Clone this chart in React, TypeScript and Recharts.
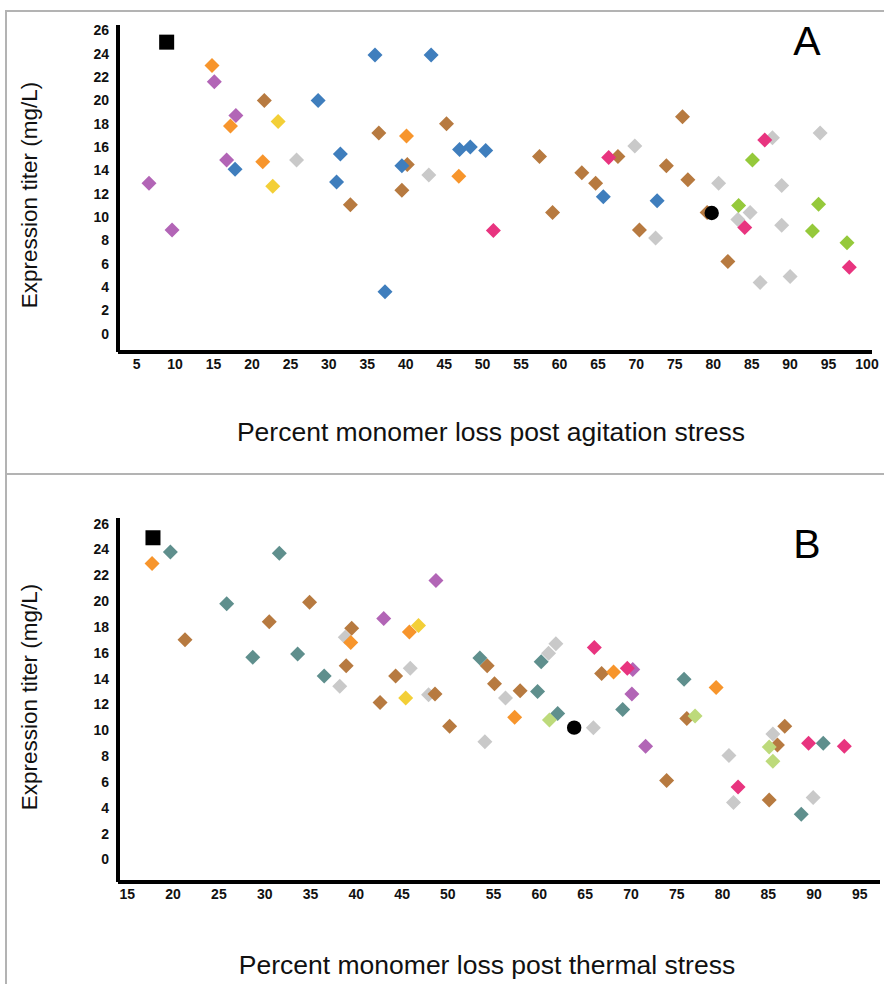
import React from "react";
import { ScatterChart, Scatter, XAxis, YAxis } from "recharts";

// ---------- Panel A: agitation stress ----------
const aTicksX = [5, 10, 15, 20, 25, 30, 35, 40, 45, 50, 55, 60, 65, 70, 75, 80, 85, 90, 95, 100];
const yTicks = [0, 2, 4, 6, 8, 10, 12, 14, 16, 18, 20, 22, 24, 26];

const aSquare = [{ x: 8.9, y: 25.0 }];
const aCircle = [{ x: 79.8, y: 10.35 }];
const aGray = [
  { x: 25.8, y: 14.9 }, { x: 43.0, y: 13.6 }, { x: 93.9, y: 17.2 }, { x: 87.7, y: 16.8 },
  { x: 69.8, y: 16.1 }, { x: 80.7, y: 12.9 }, { x: 88.9, y: 12.7 }, { x: 84.8, y: 10.4 },
  { x: 83.2, y: 9.8 }, { x: 88.9, y: 9.3 }, { x: 72.5, y: 8.2 }, { x: 86.1, y: 4.4 }, { x: 90.0, y: 4.9 },
];
const aBrown = [
  { x: 21.6, y: 20.0 }, { x: 32.8, y: 11.05 }, { x: 45.3, y: 18.0 }, { x: 36.5, y: 17.2 },
  { x: 40.2, y: 14.5 }, { x: 39.5, y: 12.3 }, { x: 57.4, y: 15.2 }, { x: 62.9, y: 13.8 },
  { x: 64.7, y: 12.9 }, { x: 59.1, y: 10.4 }, { x: 76.0, y: 18.6 }, { x: 67.6, y: 15.2 },
  { x: 73.9, y: 14.4 }, { x: 76.7, y: 13.2 }, { x: 70.4, y: 8.9 }, { x: 81.9, y: 6.2 }, { x: 79.2, y: 10.4 },
];
const aBlue = [
  { x: 36.0, y: 23.9 }, { x: 43.3, y: 23.9 }, { x: 28.6, y: 20.0 }, { x: 31.5, y: 15.4 },
  { x: 17.8, y: 14.1 }, { x: 31.0, y: 13.0 }, { x: 47.0, y: 15.8 }, { x: 48.4, y: 16.0 },
  { x: 50.4, y: 15.7 }, { x: 39.5, y: 14.4 }, { x: 37.3, y: 3.6 }, { x: 65.7, y: 11.75 }, { x: 72.7, y: 11.4 },
];
const aOrange = [
  { x: 14.8, y: 23.0 }, { x: 17.2, y: 17.8 }, { x: 21.4, y: 14.75 }, { x: 40.1, y: 16.95 }, { x: 46.9, y: 13.5 },
];
const aPurple = [
  { x: 15.1, y: 21.6 }, { x: 17.9, y: 18.7 }, { x: 16.7, y: 14.9 }, { x: 6.6, y: 12.9 }, { x: 9.6, y: 8.9 },
];
const aYellow = [{ x: 23.4, y: 18.2 }, { x: 22.7, y: 12.65 }];
const aGreen = [
  { x: 85.1, y: 14.9 }, { x: 83.3, y: 11.0 }, { x: 93.7, y: 11.1 }, { x: 92.9, y: 8.8 }, { x: 97.4, y: 7.8 },
];
const aPink = [
  { x: 51.4, y: 8.85 }, { x: 86.7, y: 16.6 }, { x: 66.4, y: 15.1 }, { x: 84.1, y: 9.1 }, { x: 97.7, y: 5.7 },
];

// ---------- Panel B: thermal stress ----------
const bTicksX = [15, 20, 25, 30, 35, 40, 45, 50, 55, 60, 65, 70, 75, 80, 85, 90, 95];

const bSquare = [{ x: 17.8, y: 24.9 }];
const bCircle = [{ x: 63.8, y: 10.2 }];
const bGray = [
  { x: 38.2, y: 13.4 }, { x: 38.8, y: 17.2 }, { x: 45.9, y: 14.8 }, { x: 47.9, y: 12.75 },
  { x: 54.05, y: 9.1 }, { x: 56.3, y: 12.5 }, { x: 61.0, y: 15.95 }, { x: 61.8, y: 16.7 },
  { x: 65.9, y: 10.2 }, { x: 80.7, y: 8.05 }, { x: 81.2, y: 4.4 }, { x: 85.5, y: 9.7 }, { x: 89.9, y: 4.8 },
];
const bBrown = [
  { x: 34.9, y: 19.9 }, { x: 30.5, y: 18.4 }, { x: 21.3, y: 17.0 }, { x: 39.5, y: 17.9 },
  { x: 38.9, y: 15.0 }, { x: 44.3, y: 14.2 }, { x: 42.6, y: 12.15 }, { x: 48.6, y: 12.8 },
  { x: 50.2, y: 10.3 }, { x: 54.3, y: 15.0 }, { x: 55.1, y: 13.6 }, { x: 57.9, y: 13.05 },
  { x: 66.8, y: 14.4 }, { x: 76.1, y: 10.9 }, { x: 73.9, y: 6.1 }, { x: 86.8, y: 10.3 },
  { x: 86.0, y: 8.85 }, { x: 85.1, y: 4.6 },
];
const bTeal = [
  { x: 19.7, y: 23.8 }, { x: 31.6, y: 23.7 }, { x: 25.85, y: 19.8 }, { x: 28.7, y: 15.65 },
  { x: 33.6, y: 15.9 }, { x: 36.5, y: 14.2 }, { x: 53.5, y: 15.6 }, { x: 59.8, y: 13.0 },
  { x: 60.2, y: 15.3 }, { x: 62.0, y: 11.3 }, { x: 69.1, y: 11.6 }, { x: 75.8, y: 13.95 },
  { x: 88.6, y: 3.5 }, { x: 91.0, y: 9.0 },
];
const bLightGreen = [
  { x: 61.1, y: 10.8 }, { x: 77.0, y: 11.1 }, { x: 85.1, y: 8.7 }, { x: 85.5, y: 7.6 },
];
const bOrange = [
  { x: 17.7, y: 22.9 }, { x: 39.4, y: 16.8 }, { x: 45.8, y: 17.6 }, { x: 57.3, y: 11.0 },
  { x: 68.1, y: 14.5 }, { x: 79.3, y: 13.3 },
];
const bYellow = [{ x: 46.8, y: 18.1 }, { x: 45.4, y: 12.5 }];
const bPurple = [
  { x: 48.7, y: 21.6 }, { x: 43.0, y: 18.65 }, { x: 70.2, y: 14.7 }, { x: 70.1, y: 12.8 }, { x: 71.6, y: 8.75 },
];
const bPink = [
  { x: 66.0, y: 16.4 }, { x: 69.6, y: 14.8 }, { x: 81.7, y: 5.6 }, { x: 89.4, y: 9.0 }, { x: 93.3, y: 8.75 },
];

const C = {
  gray: "#C9C9C9",
  brown: "#B77A40",
  blue: "#3F7EBD",
  orange: "#F7952C",
  purple: "#B265B6",
  yellow: "#F3CF37",
  green: "#95C93B",
  pink: "#E8347F",
  teal: "#5F8F8D",
  lightGreen: "#BDDA7B",
};

const Diamond = (color: string) => (props: any) => {
  const { cx, cy } = props;
  if (cx == null || cy == null) return null;
  const r = 7.5;
  return (
    <polygon
      points={`${cx},${cy - r} ${cx + r},${cy} ${cx},${cy + r} ${cx - r},${cy}`}
      fill={color}
    />
  );
};
const Square = (props: any) => {
  const { cx, cy } = props;
  if (cx == null || cy == null) return null;
  return <rect x={cx - 7.5} y={cy - 7.5} width={15} height={15} fill="#000" />;
};
const Dot = (props: any) => {
  const { cx, cy } = props;
  if (cx == null || cy == null) return null;
  return <circle cx={cx} cy={cy} r={7.2} fill="#000" />;
};

const tickFont = {
  fontSize: 14,
  fontWeight: 700,
  fill: "#111",
  fontFamily: "'Liberation Sans', Arial, sans-serif",
};
const labelFont = "'Liberation Sans', Arial, sans-serif";

type Series = { data: { x: number; y: number }[]; shape: any };

function Panel(props: {
  height: number;
  margin: { top: number; right: number; bottom: number; left: number };
  xDomain: [number, number];
  yDomain: [number, number];
  xTicks: number[];
  series: Series[];
}) {
  const { height, margin, xDomain, yDomain, xTicks, series } = props;
  return (
    <ScatterChart width={884} height={height} margin={margin}>
      <XAxis
        type="number"
        dataKey="x"
        domain={xDomain}
        ticks={xTicks}
        interval={0}
        allowDataOverflow
        tickLine={false}
        axisLine={{ stroke: "#000", strokeWidth: 4 }}
        tick={tickFont}
        tickMargin={1}
        height={30}
      />
      <YAxis
        type="number"
        dataKey="y"
        domain={yDomain}
        ticks={yTicks}
        interval={0}
        allowDataOverflow
        tickLine={false}
        axisLine={{ stroke: "#000", strokeWidth: 4 }}
        tick={tickFont}
        tickMargin={3}
        width={40}
      />
      {series.map((s, i) => (
        <Scatter key={i} data={s.data} shape={s.shape} isAnimationActive={false} />
      ))}
    </ScatterChart>
  );
}

export default function App() {
  const seriesA: Series[] = [
    { data: aGray, shape: Diamond(C.gray) },
    { data: aBrown, shape: Diamond(C.brown) },
    { data: aBlue, shape: Diamond(C.blue) },
    { data: aOrange, shape: Diamond(C.orange) },
    { data: aPurple, shape: Diamond(C.purple) },
    { data: aYellow, shape: Diamond(C.yellow) },
    { data: aGreen, shape: Diamond(C.green) },
    { data: aPink, shape: Diamond(C.pink) },
    { data: aSquare, shape: Square },
    { data: aCircle, shape: Dot },
  ];
  const seriesB: Series[] = [
    { data: bGray, shape: Diamond(C.gray) },
    { data: bBrown, shape: Diamond(C.brown) },
    { data: bTeal, shape: Diamond(C.teal) },
    { data: bLightGreen, shape: Diamond(C.lightGreen) },
    { data: bOrange, shape: Diamond(C.orange) },
    { data: bYellow, shape: Diamond(C.yellow) },
    { data: bPurple, shape: Diamond(C.purple) },
    { data: bPink, shape: Diamond(C.pink) },
    { data: bSquare, shape: Square },
    { data: bCircle, shape: Dot },
  ];

  const yLabel = (cy: number) => (
    <div
      style={{
        position: "absolute",
        left: 30 - 150,
        top: cy - 15,
        width: 300,
        height: 30,
        lineHeight: "30px",
        textAlign: "center",
        transform: "rotate(-90deg)",
        fontFamily: labelFont,
        fontSize: 22.5,
        color: "#111",
      }}
    >
      Expression titer (mg/L)
    </div>
  );
  const xLabel = (text: string, cx: number, cy: number) => (
    <div
      style={{
        position: "absolute",
        left: cx - 400,
        top: cy - 15,
        width: 800,
        height: 30,
        lineHeight: "30px",
        textAlign: "center",
        fontFamily: labelFont,
        fontSize: 26.5,
        color: "#111",
        whiteSpace: "nowrap",
      }}
    >
      {text}
    </div>
  );
  const letter = (t: string, top: number) => (
    <div
      style={{
        position: "absolute",
        left: 787,
        top,
        width: 40,
        textAlign: "center",
        fontFamily: labelFont,
        fontSize: 41,
        lineHeight: "41px",
        color: "#000",
      }}
    >
      {t}
    </div>
  );

  return (
    <div
      style={{
        position: "absolute",
        left: 0,
        top: 0,
        width: 884,
        height: 984,
        background: "#fff",
        overflow: "hidden",
      }}
    >
      <div style={{ position: "absolute", left: 5, top: 10, width: 879, height: 0, borderTop: "2px solid #b3b3b3" }} />
      <div style={{ position: "absolute", left: 5, top: 10, width: 0, height: 974, borderLeft: "2px solid #b3b3b3" }} />
      <div style={{ position: "absolute", left: 5, top: 473, width: 879, height: 0, borderTop: "2px solid #b3b3b3" }} />

      <div style={{ position: "absolute", left: 0, top: 0 }}>
        <Panel
          height={474}
          margin={{ top: 25, right: 12, bottom: 474 - 352 - 30, left: 78 }}
          xDomain={[2.57, 100.65]}
          yDomain={[-1.57, 26.47]}
          xTicks={aTicksX}
          series={seriesA}
        />
      </div>
      <div style={{ position: "absolute", left: 0, top: 474 }}>
        <Panel
          height={510}
          margin={{ top: 44, right: 4, bottom: 510 - 408 - 30, left: 78 }}
          xDomain={[13.98, 97.2]}
          yDomain={[-1.75, 26.43]}
          xTicks={bTicksX}
          series={seriesB}
        />
      </div>

      {yLabel(195)}
      {yLabel(697)}
      {xLabel("Percent monomer loss post agitation stress", 491, 432)}
      {xLabel("Percent monomer loss post thermal stress", 487, 965)}
      {letter("A", 21)}
      {letter("B", 524)}
    </div>
  );
}
